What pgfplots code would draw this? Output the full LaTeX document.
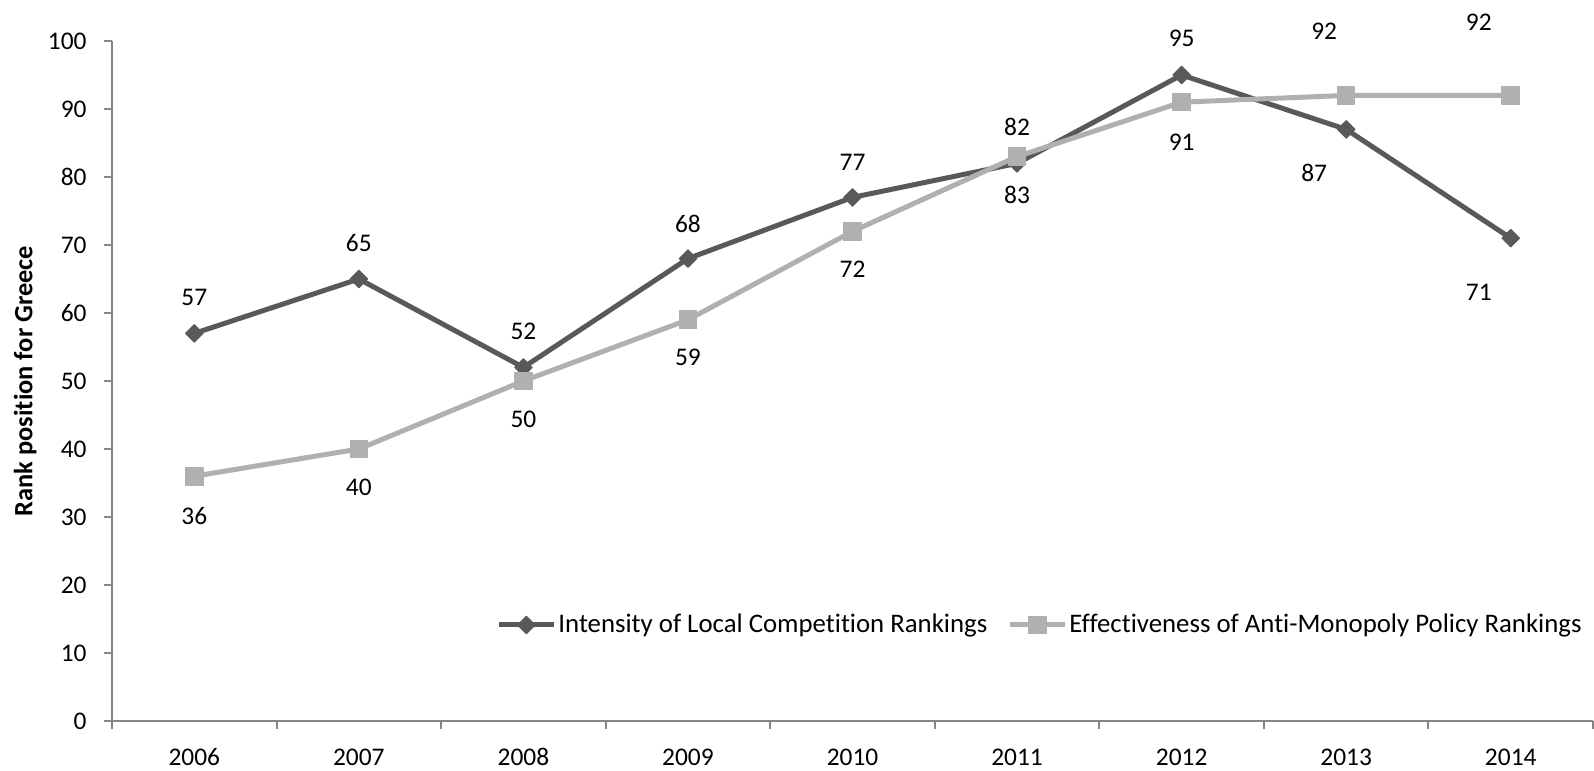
\documentclass[border=0pt]{standalone}
\usepackage{fontspec}
\setmainfont{Carlito}[Ligatures=NoCommon]
\usepackage{pgfplots}
\usepackage{pgfplotstable}
\pgfplotsset{compat=1.18}

\definecolor{darkser}{HTML}{595959}
\definecolor{lightser}{HTML}{B0B0B0}
\definecolor{axisgray}{HTML}{868686}

% x = category index (2006 = 0), dx/dy = label offset in pt
\pgfplotstableread{
x y dx dy
0 57 0 18
1 65 0 18
2 52 0 18
3 68 0 17.5
4 77 0 17.5
5 82 0 18
6 95 0 18.5
7 87 -16 -22
8 71 -16 -27
}\intensity

\pgfplotstableread{
x y dx dy
0 36 0 -20
1 40 0 -19
2 50 0 -19
3 59 0 -19
4 72 0 -19
5 83 0 -19
6 91 0 -20
7 92 -11 32
8 92 -16 36.5
}\antimono

\begin{document}
\fontsize{12.7}{15}\selectfont
\begin{tikzpicture}
\begin{axis}[
    name=ax,
    scale only axis,
    width=740.5pt, height=340pt,
    xmin=-0.5, xmax=8.5,
    ymin=0, ymax=100,
    ytick={0,10,...,100},
    xtick={-0.5,0.5,...,8.5},
    x tick label as interval,
    xticklabels={2006,2007,2008,2009,2010,2011,2012,2013,2014},
    axis x line*=bottom,
    axis y line*=left,
    axis line style={axisgray, line width=1pt},
    tick style={axisgray, line width=1pt},
    major tick length=4pt,
    tick align=outside,
    /pgf/number format/assume math mode=true,
    tick label style={font=\fontsize{12.7}{15}\selectfont, text=black},
    yticklabel style={anchor=east, inner sep=0pt, xshift=-8.5pt},
    xticklabel style={anchor=base, inner sep=0pt, yshift=-18pt},
    ylabel={\textbf{Rank position for Greece}},
    ylabel style={at={(axis description cs:-0.0587,0.5)}, anchor=center, font=\fontsize{13.2}{15}\selectfont},
    clip=false,
    legend columns=2,
    legend style={at={(axis description cs:0.2593,0.1412)}, anchor=west,
        draw=none, fill=none, inner sep=0pt,
        font=\fontsize{13.4}{15}\selectfont,
        nodes={inner sep=1pt},
        /tikz/every even column/.append style={column sep=9pt}},
    legend image code/.code={
        \draw[mark repeat=2, mark phase=2, #1] plot coordinates {(0pt,0pt) (13.75pt,0pt) (27.5pt,0pt)};
    },
    every node near coord/.append style={anchor=center, text=black,
        font=\fontsize{12.7}{15}\selectfont},
]
\addplot[darkser, line width=2.5pt, line join=round,
    mark=square*, mark size=3.1pt,
    mark options={rotate=45, fill=darkser, line width=0.5pt},
    point meta=explicit,
    visualization depends on={\thisrow{dx} \as \dx},
    visualization depends on={\thisrow{dy} \as \dy},
    nodes near coords,
    nodes near coords style={xshift=\dx pt, yshift=\dy pt}]
    table[x=x, y=y, meta=y] {\intensity};
\addlegendentry{Intensity of Local Competition Rankings}

\addplot[lightser, line width=2.5pt, line join=round,
    mark=square*, mark size=4.4pt,
    mark options={fill=lightser, line width=0.5pt},
    point meta=explicit,
    visualization depends on={\thisrow{dx} \as \dx},
    visualization depends on={\thisrow{dy} \as \dy},
    nodes near coords,
    nodes near coords style={xshift=\dx pt, yshift=\dy pt}]
    table[x=x, y=y, meta=y] {\antimono};
\addlegendentry{Effectiveness of Anti-Monopoly Policy Rankings}
\end{axis}
\pgfresetboundingbox
\path[use as bounding box] ([xshift=-56pt, yshift=-24.5pt]ax.south west) rectangle ([xshift=0.5pt, yshift=20.5pt]ax.north east);
\end{tikzpicture}
\end{document}
